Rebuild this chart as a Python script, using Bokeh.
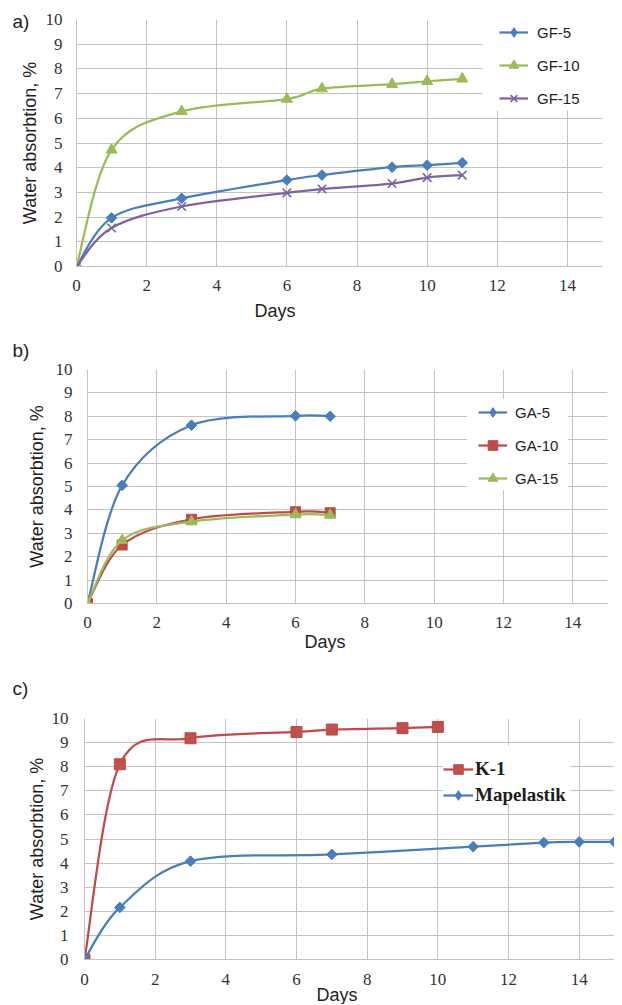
import numpy as np
from bokeh.plotting import figure
from bokeh.models import Legend, LegendItem, Title, BoxAnnotation, Range1d
from bokeh.layouts import column, row
from bokeh.embed import file_html
from bokeh.resources import INLINE

# ---------------- data ----------------
# a) GF series
days_gf = [0, 1, 3, 6, 7, 9, 10, 11]
gf5 = [0, 1.97, 2.76, 3.5, 3.7, 4.02, 4.1, 4.2]
gf10 = [0, 4.72, 6.28, 6.78, 7.2, 7.38, 7.5, 7.6]
gf15 = [0, 1.56, 2.43, 2.98, 3.14, 3.36, 3.6, 3.7]

# b) GA series
days_ga = [0, 1, 3, 6, 7]
ga5 = [0, 5.05, 7.62, 8.02, 8.0]
ga10 = [0, 2.5, 3.6, 3.92, 3.88]
ga15 = [0, 2.7, 3.5, 3.8, 3.78]

# c) K-1 and Mapelastik
days_k1 = [0, 1, 3, 6, 7, 9, 10]
k1 = [0, 8.1, 9.18, 9.44, 9.54, 9.6, 9.65]
days_map = [0, 1, 3, 7, 11, 13, 14, 15]
mapelastik = [0, 2.16, 4.08, 4.36, 4.68, 4.85, 4.88, 4.88]

x_ticks = [0, 2, 4, 6, 8, 10, 12, 14]
y_ticks = [0, 1, 2, 3, 4, 5, 6, 7, 8, 9, 10]
y_title = "Water absorbtion, %"
x_title = "Days"

BLUE = "#4a7ebb"
RED = "#be4b48"
GREEN = "#9bbb59"
PURPLE = "#7f63a1"
GRID = "#c3c3c3"
TICK = "#333333"
TXT = "#1e1e1e"
SERIF = "Liberation Serif"
SANS = "Liberation Sans"


def make_fig(fw, fh, left, right, top, bottom, lab_std, x_std, ttl_std):
    p = figure(frame_width=fw, frame_height=fh,
               min_border_left=left, min_border_right=right,
               min_border_top=top, min_border_bottom=bottom,
               x_range=Range1d(0, 15), y_range=Range1d(0, 10),
               output_backend="svg", toolbar_location=None)
    p.outline_line_color = None
    p.background_fill_color = "white"
    p.axis.axis_line_color = GRID
    p.axis.major_tick_line_color = None
    p.axis.minor_tick_line_color = None
    p.axis.major_tick_out = 0
    p.axis.minor_tick_out = 0
    p.axis.major_label_text_font = SERIF
    p.axis.major_label_text_font_size = "17px"
    p.axis.major_label_text_color = TICK
    p.xaxis.ticker = x_ticks
    p.yaxis.ticker = y_ticks
    p.xaxis.major_label_standoff = x_std
    p.yaxis.major_label_standoff = lab_std
    p.yaxis.axis_label = y_title
    p.yaxis.axis_label_text_font = SANS
    p.yaxis.axis_label_text_font_size = "18px"
    p.yaxis.axis_label_text_font_style = "normal"
    p.yaxis.axis_label_text_color = TXT
    p.yaxis.axis_label_standoff = ttl_std
    p.xgrid.grid_line_color = GRID
    p.ygrid.grid_line_color = GRID
    return p


def smooth(p, xs, ys, color, width=2.25):
    xs = np.asarray(xs, float)
    ys = np.asarray(ys, float)
    n = len(xs)
    xp = np.concatenate([[xs[0]], xs, [xs[-1]]])
    yp = np.concatenate([[ys[0]], ys, [ys[-1]]])
    cx0 = xs[:-1] + (xp[2:n + 1] - xp[0:n - 1]) / 6.0
    cy0 = ys[:-1] + (yp[2:n + 1] - yp[0:n - 1]) / 6.0
    cx1 = xs[1:] - (xp[3:n + 2] - xp[1:n]) / 6.0
    cy1 = ys[1:] - (yp[3:n + 2] - yp[1:n]) / 6.0
    return p.bezier(x0=xs[:-1], y0=ys[:-1], x1=xs[1:], y1=ys[1:],
                    cx0=cx0, cy0=cy0, cx1=cx1, cy1=cy1,
                    line_color=color, line_width=width)


def diamond(p, xs, ys, color, size=7.5):
    # thin diamond underneath (used for the legend symbol), covered by a rotated square
    under = p.scatter(xs, ys, marker="diamond", size=9, fill_color=color, line_color=color)
    p.scatter(xs, ys, marker="square", angle=np.pi / 4, size=size,
              fill_color=color, line_color=color)
    return under


def add_texts(p, tag, tag_off, tag_std, days_off, days_std):
    p.add_layout(Title(text=tag, align="left", offset=tag_off, standoff=tag_std,
                       text_font=SANS, text_font_size="19px", text_font_style="normal",
                       text_color=TXT), "above")
    p.add_layout(Title(text=x_title, align="left", offset=days_off, standoff=days_std,
                       text_font=SANS, text_font_size="18px", text_font_style="normal",
                       text_color=TXT), "below")


# ---------------- panel a ----------------
pa = make_fig(526, 247, 76, 12, 19, 60, 14, 13, 3)
ra1 = smooth(pa, days_gf, gf5, BLUE)
ra1m = diamond(pa, days_gf, gf5, BLUE)
ra2 = smooth(pa, days_gf, gf10, GREEN)
ra2m = pa.scatter(days_gf, gf10, marker="triangle", size=11, fill_color=GREEN, line_color=GREEN)
ra3 = smooth(pa, days_gf, gf15, PURPLE)
ra3m = pa.scatter(days_gf, gf15, marker="x", size=12, line_color=PURPLE, line_width=1.6)
pa.add_layout(BoxAnnotation(left=11.58, right=15, bottom=6.32, top=10,
                            fill_color="white", fill_alpha=1, line_alpha=0))
leg_a = Legend(items=[LegendItem(label="GF-5", renderers=[ra1, ra1m]),
                      LegendItem(label="GF-10", renderers=[ra2, ra2m]),
                      LegendItem(label="GF-15", renderers=[ra3, ra3m])],
               location=(423, 156), padding=0, spacing=9, glyph_width=29,
               glyph_height=24, label_height=24, label_standoff=9,
               border_line_color=None, background_fill_alpha=0,
               label_text_font=SANS, label_text_font_size="15px",
               label_text_color=TXT)
pa.add_layout(leg_a)
add_texts(pa, "a)", -64, -24, 178, 10)

# ---------------- panel b ----------------
pb = make_fig(520, 234, 87, 7, 43, 52, 15, 13, 6)
rb1 = smooth(pb, days_ga, ga5, BLUE)
rb1m = diamond(pb, days_ga, ga5, BLUE)
rb2 = smooth(pb, days_ga, ga10, RED)
rb2m = pb.scatter(days_ga, ga10, marker="square", size=10, fill_color=RED, line_color=RED)
rb3 = smooth(pb, days_ga, ga15, GREEN)
rb3m = pb.scatter(days_ga, ga15, marker="triangle", size=11, fill_color=GREEN, line_color=GREEN)
pb.add_layout(BoxAnnotation(left=10.94, right=13.87, bottom=4.83, top=8.75,
                            fill_color="white", fill_alpha=1, line_alpha=0))
leg_b = Legend(items=[LegendItem(label="GA-5", renderers=[rb1, rb1m]),
                      LegendItem(label="GA-10", renderers=[rb2, rb2m]),
                      LegendItem(label="GA-15", renderers=[rb3, rb3m])],
               location=(391, 113), padding=0, spacing=9, glyph_width=29,
               glyph_height=24, label_height=24, label_standoff=8,
               border_line_color=None, background_fill_alpha=0,
               label_text_font=SANS, label_text_font_size="15px",
               label_text_color=TXT)
pb.add_layout(leg_b)
add_texts(pb, "b)", -75, 18, 217, -2)

# ---------------- panel c ----------------
pc = make_fig(530, 241, 84, 0, 63, 45, 16, 14, 2)
rc1 = smooth(pc, days_k1, k1, RED)
rc1m = pc.scatter(days_k1, k1, marker="square", size=11, fill_color="#c0504d", line_color=RED)
rc2 = smooth(pc, days_map, mapelastik, BLUE)
rc2m = diamond(pc, days_map, mapelastik, BLUE, size=7.5)
pc.add_layout(BoxAnnotation(left=10.15, right=13.75, bottom=6.47, top=8.88,
                            fill_color="white", fill_alpha=1, line_alpha=0))
leg_c = Legend(items=[LegendItem(label="K-1", renderers=[rc1, rc1m]),
                      LegendItem(label="Mapelastik", renderers=[rc2, rc2m])],
               location=(359, 152), padding=0, spacing=2, glyph_width=30,
               glyph_height=24, label_height=24, label_standoff=2,
               border_line_color=None, background_fill_alpha=0,
               label_text_font=SERIF, label_text_font_size="19px",
               label_text_font_style="bold", label_text_color=TXT)
pc.add_layout(leg_c)
add_texts(pc, "c)", -72, 39, 232, -10)

layout = column(row(pa), row(pb), row(pc), spacing=0)
open("out.html", "w").write(file_html(layout, INLINE))
